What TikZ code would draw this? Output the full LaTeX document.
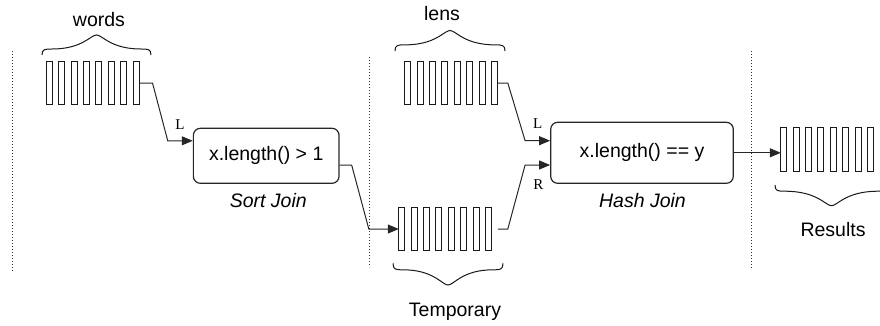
\documentclass[tikz,border=0pt]{standalone}
\usepackage{fontspec}
\setmainfont{Liberation Sans}
\newfontfamily\serifL{Liberation Serif}
\usetikzlibrary{arrows.meta,calc}
\newcommand\mybrc[4]{%
 \pgfmathsetmacro\bcx{(#1+#2)/2}%
 \pgfmathsetmacro\bfy{#3+0.3*(#4-#3)}%
 \draw[bracestyle] (#1,#3) .. controls (#1,\bfy) and (#1+3,\bfy) .. (#1+10,\bfy)
   .. controls (\bcx-14,\bfy) and (\bcx-6,#4) .. (\bcx,#4)
   .. controls (\bcx+6,#4) and (\bcx+14,\bfy) .. (#2-10,\bfy)
   .. controls (#2-3,\bfy) and (#2,\bfy) .. (#2,#3);}
\newcommand\mybars[1]{%
 \foreach \i in {0,...,7}{%
  \draw[barstyle] ($(#1.north west)+(\i*12.37,0)$) rectangle ($(#1.south west)+(\i*12.37+6,0)$);}}
\begin{document}
\begin{tikzpicture}[x=1pt,y=-1pt,
  txt/.style={font=\fontsize{19.5}{22}\selectfont, inner sep=0pt},
  itxt/.style={font=\fontsize{19.5}{22}\selectfont\itshape, inner sep=0pt},
  tag/.style={font=\fontsize{15}{17}\selectfont\serifL, inner sep=0pt},
  joinbox/.style={draw=black!85, line width=1.2pt, rounded corners=7pt, inner sep=0pt,
    font=\fontsize{19.5}{22}\selectfont},
  arr/.style={draw=none, inner sep=0pt, minimum width=92.6pt},
  barstyle/.style={draw=black!90, line width=1pt, fill=white},
  bracestyle/.style={draw=black!90, line width=1pt},
  conn/.style={draw=black!85, line width=1pt, -{Triangle[length=11pt,width=9pt]}},
  sep/.style={draw=black!80, line width=1pt, dash pattern=on 1pt off 2pt}]
\useasboundingbox (0,0) rectangle (880,325);
\clip (0,0) rectangle (880,325);
% separators
\draw[sep] (12,51) -- (12,271);
\draw[sep] (369,57) -- (369,267);
\draw[sep] (751,51) -- (751,270);
% arrays
\node[arr, minimum height=42pt] (words) at (93,83) {};
\node[arr, minimum height=42pt] (lens) at (451.3,83) {};
\node[arr, minimum height=43.4pt] (temp) at (445.3,229) {};
\node[arr, minimum height=43pt] (results) at (827.3,149.5) {};
\mybars{words}
\mybars{lens}
\mybars{temp}
\mybars{results}
% braces
\mybrc{42}{151}{55}{35}
\mybrc{395}{505}{51}{30.5}
\mybrc{393}{503}{263.3}{285}
\mybrc{775}{888}{185}{205.7}
% labels
\node[txt, anchor=base] (wordsT) at (99,26) {words};
\node[txt, anchor=base] (lensT) at (442,20) {lens};
\node[txt, anchor=base] (tempT) at (455,316.7) {Temporary};
\node[txt, anchor=base] (resT) at (833,236.7) {Results};
% join boxes
\node[joinbox, minimum width=145.7pt, minimum height=55pt] (sort) at (266.2,155.8) {x.length() > 1};
\node[joinbox, minimum width=182.6pt, minimum height=61pt] (hash) at (642,152.8) {x.length() == y};
\node[itxt, anchor=base] (sortT) at (268.3,207.7) {Sort Join};
\node[itxt, anchor=base] (hashT) at (642.5,207.7) {Hash Join};
% L / R tags
\node[tag, anchor=base] (l1) at (180,129) {L};
\node[tag, anchor=base] (l2) at (537.7,128.3) {L};
\node[tag, anchor=base] (r1) at (538.3,189.3) {R};
% connectors
\draw[conn] (words.east) -- ++(13,0) -- ([xshift=-25pt,yshift=15pt]sort.west) -- ([yshift=15pt]sort.west);
\draw[conn] ([yshift=-9.2pt]sort.east) -- ++(12,0) -- ([xshift=-30pt]temp.west) -- (temp.west);
\draw[conn] (lens.east) -- ++(10,0) -- ([xshift=-25pt,yshift=12.1pt]hash.west) -- ([yshift=12.1pt]hash.west);
\draw[conn, shorten <=6pt] (temp.east) -- ++(16,0) -- ([xshift=-25pt,yshift=-12.2pt]hash.west) -- ([yshift=-12.2pt]hash.west);
\draw[conn] (hash.east) -- (hash.east -| results.west);
\end{tikzpicture}
\end{document}
